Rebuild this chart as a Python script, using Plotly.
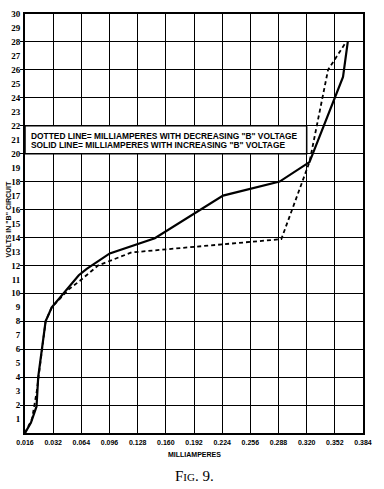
import plotly.graph_objects as go

# Tick labels (milliamperes) and volts
x_tickvals = [0.0, 0.032, 0.064, 0.096, 0.128, 0.160, 0.192, 0.224, 0.256, 0.288, 0.320, 0.352, 0.384]
x_ticktext = ["0.016", "0.032", "0.064", "0.096", "0.128", "0.160", "0.192", "0.224",
              "0.256", "0.288", "0.320", "0.352", "0.384"]
y_tickvals = list(range(1, 31))

# Solid line: milliamperes with increasing "B" voltage
solid_ma = [0.0, 0.0067, 0.0131, 0.0150, 0.0234, 0.0304, 0.0611, 0.0701, 0.0963, 0.1475,
            0.2250, 0.2893, 0.3232, 0.3613, 0.3667]
solid_v = [0.0, 0.73, 1.9, 4.0, 8.0, 9.0, 11.3, 11.75, 12.86, 13.94,
           17.0, 18.0, 19.4, 25.5, 28.0]

# Dotted line: milliamperes with decreasing "B" voltage
dotted_ma = [0.0, 0.0080, 0.0134, 0.0234, 0.0304, 0.0493, 0.0624, 0.0832, 0.1210, 0.1930,
             0.2912, 0.3232, 0.3443, 0.3648]
dotted_v = [0.0, 1.0, 3.0, 8.0, 9.0, 10.26, 10.9, 12.0, 12.93, 13.33,
            13.88, 19.4, 26.0, 28.0]

legend_lines = ['DOTTED LINE= MILLIAMPERES WITH DECREASING "B" VOLTAGE',
                'SOLID LINE= MILLIAMPERES WITH INCREASING "B" VOLTAGE']

fig = go.Figure()
fig.add_trace(go.Scatter(x=dotted_ma, y=dotted_v, mode="lines",
                         line=dict(color="black", width=1.8, dash="4px,3px"),
                         showlegend=False))
fig.add_trace(go.Scatter(x=solid_ma, y=solid_v, mode="lines",
                         line=dict(color="black", width=2.2),
                         showlegend=False))

# white legend box covering the grid between 20 and 22 volts
fig.add_shape(type="rect", xref="x", yref="y", x0=0, x1=0.320, y0=20, y1=22,
              fillcolor="white", line=dict(color="black", width=1.5), layer="between")

fig.add_annotation(xref="x", yref="y", x=0.005, y=21.3, text="<b>" + legend_lines[0] + "</b>",
                   showarrow=False, xanchor="left", yanchor="middle",
                   font=dict(family="Liberation Sans", size=8.4, color="black"))
fig.add_annotation(xref="x", yref="y", x=0.005, y=20.65, text="<b>" + legend_lines[1] + "</b>",
                   showarrow=False, xanchor="left", yanchor="middle",
                   font=dict(family="Liberation Sans", size=8.4, color="black"))

fig.update_xaxes(range=[0, 0.384], tickmode="array", tickvals=x_tickvals,
                 ticktext=["<b>" + t + "</b>" for t in x_ticktext],
                 tickfont=dict(family="Liberation Sans", size=7, color="black"),
                 showgrid=True, gridcolor="black", gridwidth=1.3, zeroline=False,
                 showline=True, linecolor="black", linewidth=2, mirror=True,
                 ticks="", ticklabelstandoff=2)
fig.update_yaxes(range=[0, 30], tickmode="array", tickvals=y_tickvals,
                 ticktext=["<b>%d</b>" % v for v in y_tickvals],
                 tickfont=dict(family="Liberation Serif", size=9, color="black"),
                 showgrid=False, zeroline=False,
                 showline=True, linecolor="black", linewidth=2, mirror=True,
                 ticks="", ticklabelstandoff=1,
                 minor=dict(tickmode="array", tickvals=list(range(2, 30, 2)),
                            showgrid=True, gridcolor="black", gridwidth=1.3,
                            ticks="outside", ticklen=3, tickcolor="black"))

fig.add_annotation(xref="paper", yref="paper", x=0.5, y=-0.038, yanchor="top",
                   text="<b>MILLIAMPERES</b>", showarrow=False,
                   font=dict(family="Liberation Sans", size=7, color="black"))
fig.add_annotation(xref="paper", yref="paper", x=0.5, y=-0.078, yanchor="top",
                   text="F<span style='font-size:11px'>IG</span>. 9.", showarrow=False,
                   font=dict(family="Liberation Serif", size=15, color="black"))
fig.add_annotation(xref="paper", yref="paper", x=-0.05, y=0.51, textangle=-90,
                   xanchor="center", yanchor="middle",
                   text='<b>VOLTS IN "B" CIRCUIT</b>', showarrow=False,
                   font=dict(family="Liberation Sans", size=7, color="black"))

fig.update_layout(width=384, height=489, margin=dict(l=25, r=21, t=9, b=56),
                  paper_bgcolor="white", plot_bgcolor="white")

fig.write_html("out.html")
